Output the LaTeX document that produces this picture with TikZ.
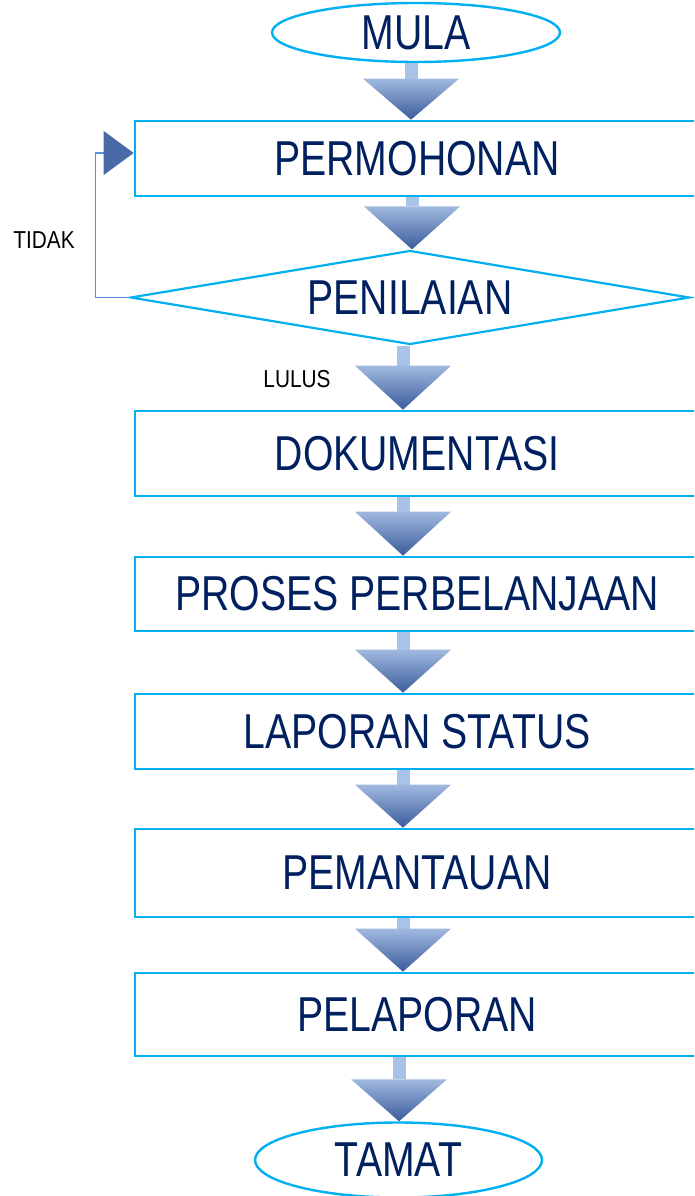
\documentclass[tikz,border=0pt]{standalone}
\usepackage{fontspec}
\setmainfont{Liberation Sans}[FakeStretch=0.8]
\newfontfamily\smallfont{Liberation Sans}[FakeStretch=0.85]
\usetikzlibrary{shapes.geometric,calc}
\definecolor{bordc}{HTML}{00B0F0}
\definecolor{txtc}{HTML}{002060}
\definecolor{shaftc}{HTML}{A9C3E8}
\definecolor{headtop}{HTML}{A0B9E0}
\definecolor{headbot}{HTML}{3B5B9B}
\definecolor{fbc}{HTML}{4F93D8}
\definecolor{tric}{HTML}{4A69A9}
\newcommand{\bigtext}{\fontsize{49}{50}\selectfont}
\newcommand{\lbltext}{\smallfont\fontsize{24.5}{26}\selectfont}
\newcommand{\blkarrow}[4]{%
  \fill[shaftc] let \p1=(#1.south), \p2=(#2.north) in ({#3pt-6.5pt},\y1) rectangle ({#3pt+6.5pt},{\y2+#4pt});
  \shade[top color=headtop,bottom color=headbot] let \p2=(#2.north) in ({#3pt-48pt},{\y2+#4pt}) -- ({#3pt+48pt},{\y2+#4pt}) -- (#3pt,\y2) -- cycle;
}
\begin{document}
\begin{tikzpicture}[x=1pt,y=-1pt,
  box/.style={draw=bordc,line width=2.6pt,rectangle,minimum width=564pt,inner sep=0pt,text=txtc,font=\bigtext},
  term/.style={draw=bordc,line width=2.4pt,ellipse,inner sep=0pt,text=txtc,font=\bigtext},
  decis/.style={draw=bordc,line width=2.2pt,diamond,aspect=5.95,minimum width=559pt,minimum height=94pt,inner sep=0pt,text=txtc,font=\bigtext},
  lbl/.style={font=\lbltext,text=black,inner sep=0pt},
  fbline/.style={draw=fbc,line width=1.5pt}]
\useasboundingbox (0,0) rectangle (694,1196);
\clip (0,0) rectangle (694,1196);
% nodes
\node[term,minimum width=288pt,minimum height=59pt] (mula) at (416,32.5) {MULA};
\node[box,minimum height=75pt] (perm) at (417,158.5) {PERMOHONAN};
\node[decis] (nilai) at (410,297.5) {PENILAIAN};
\node[box,minimum height=85pt] (doku) at (417,453.5) {DOKUMENTASI};
\node[box,minimum height=74pt] (proses) at (417,594) {PROSES PERBELANJAAN};
\node[box,minimum height=75pt] (lapstat) at (417,731.5) {LAPORAN STATUS};
\node[box,minimum height=88pt] (pantau) at (417,873) {PEMANTAUAN};
\node[box,minimum height=83pt] (lapor) at (417,1014.5) {PELAPORAN};
\node[term,minimum width=287pt,minimum height=75pt] (tamat) at (398.5,1160) {TAMAT};
% labels
\node[lbl] (tidak) at (44,240) {TIDAK};
\node[lbl] (lulus) at (297,379) {LULUS};
% block arrows
\blkarrow{mula}{perm}{411}{41}
\blkarrow{perm}{nilai}{412}{43}
\blkarrow{nilai}{doku}{403}{44}
\blkarrow{doku}{proses}{403}{44}
\blkarrow{proses}{lapstat}{403}{43}
\blkarrow{lapstat}{pantau}{403}{43}
\blkarrow{pantau}{lapor}{403}{43}
\blkarrow{lapor}{tamat}{399}{42}
% feedback loop
\coordinate (tip) at ($(perm.west)+(0,-5.5)$);
\draw[fbline] (nilai.west) -| ([xshift=-38pt]tip) -- ([xshift=-30pt]tip);
\fill[tric] (tip) -- ++(-30,-22) -- ++(0,44) -- cycle;
\end{tikzpicture}
\end{document}
